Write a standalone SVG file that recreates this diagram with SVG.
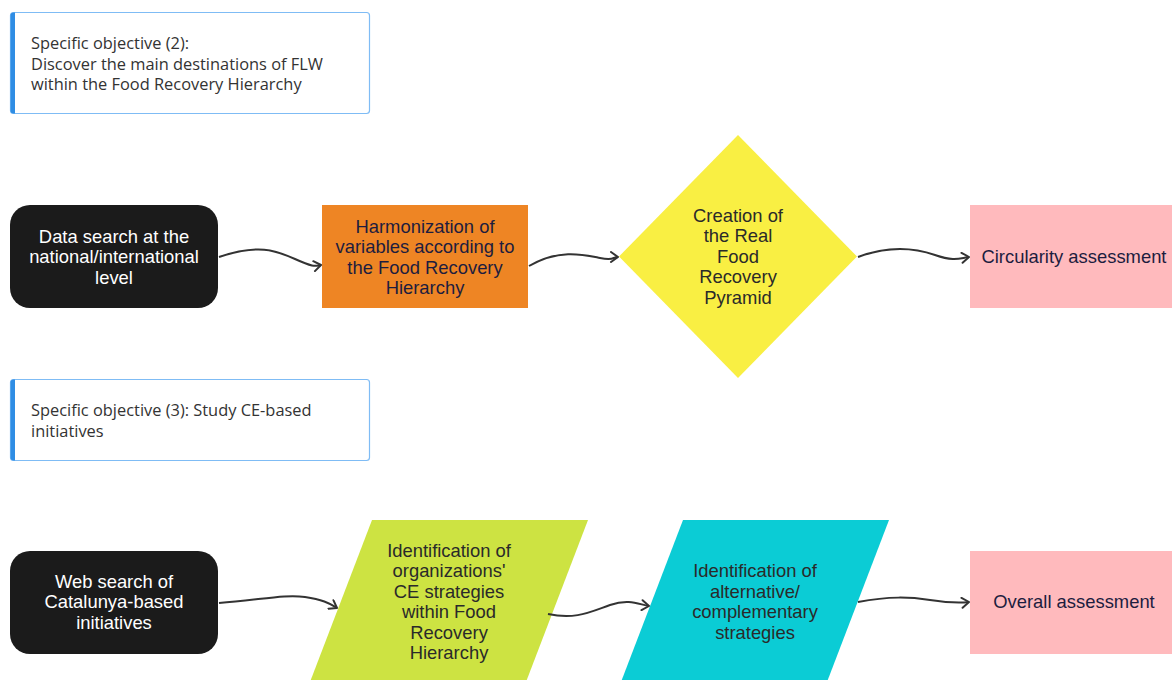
<svg xmlns="http://www.w3.org/2000/svg" width="1172" height="680" viewBox="0 0 1172 680">
<defs>
<style>
.obj{fill:#fff;stroke:#7fbcf5;stroke-width:1.2}
.bar{fill:#2f8de4}
.objt{font-family:"Open Sans","Noto Sans",sans-serif;font-size:16.4px;fill:#333}
.nt{font-family:"Liberation Sans",Arial,sans-serif;font-size:18.4px;text-anchor:middle}
.w{fill:#fff}
.d{fill:#1d1d3f}
.k{fill:#2a2a2a}
.conn{fill:none;stroke:#333;stroke-width:2}
</style>
<marker id="arr" viewBox="0 0 12 12" refX="10" refY="6" markerWidth="12" markerHeight="12" markerUnits="userSpaceOnUse" orient="auto">
<path d="M3,1 L10,6 L3,11" fill="none" stroke="#333" stroke-width="2" stroke-linecap="round" stroke-linejoin="round"/>
</marker>
</defs>
<rect width="1172" height="680" fill="#fff"/>

<g id="objective2">
<rect class="obj" x="10.5" y="12.5" width="359" height="101" rx="3"/>
<path class="bar" d="M13.5,12.5 H15 V113.5 H13.5 A3,3 0 0 1 10.5,110.5 V15.5 A3,3 0 0 1 13.5,12.5 Z"/>
<text class="objt" x="31" y="49">Specific objective (2):</text>
<text class="objt" x="31" y="69.5">Discover the main destinations of FLW</text>
<text class="objt" x="31" y="90">within the Food Recovery Hierarchy</text>
</g>

<g id="objective3">
<rect class="obj" x="10.5" y="379.5" width="359" height="81" rx="3"/>
<path class="bar" d="M13.5,379.5 H15 V460.5 H13.5 A3,3 0 0 1 10.5,457.5 V382.5 A3,3 0 0 1 13.5,379.5 Z"/>
<text class="objt" x="31" y="416">Specific objective (3): Study CE-based</text>
<text class="objt" x="31" y="436.5">initiatives</text>
</g>

<g id="datasearch">
<rect x="10" y="205" width="208" height="103" rx="20" fill="#1b1b1b"/>
<text class="nt w" x="114" y="242.5">Data search at the</text>
<text class="nt w" x="114" y="263">national/international</text>
<text class="nt w" x="114" y="283.5">level</text>
</g>

<g id="harmonization">
<rect x="322" y="205" width="206" height="103" fill="#ee8524"/>
<text class="nt d" x="425" y="232.5">Harmonization of</text>
<text class="nt d" x="425" y="253">variables according to</text>
<text class="nt d" x="425" y="273.5">the Food Recovery</text>
<text class="nt d" x="425" y="294">Hierarchy</text>
</g>

<g id="pyramid">
<polygon points="738,135 857,256.5 738,378 619,256.5" fill="#f9ef43"/>
<text class="nt k" x="738" y="221.5">Creation of</text>
<text class="nt k" x="738" y="242">the Real</text>
<text class="nt k" x="738" y="262.5">Food</text>
<text class="nt k" x="738" y="283">Recovery</text>
<text class="nt k" x="738" y="303.5">Pyramid</text>
</g>

<g id="circularity">
<rect x="970" y="205" width="208" height="103" fill="#ffbabd"/>
<text class="nt d" x="1074" y="263">Circularity assessment</text>
</g>

<g id="websearch">
<rect x="10" y="551" width="208" height="103" rx="20" fill="#1b1b1b"/>
<text class="nt w" x="114" y="587.5">Web search of</text>
<text class="nt w" x="114" y="608">Catalunya-based</text>
<text class="nt w" x="114" y="628.5">initiatives</text>
</g>

<g id="identification1">
<polygon points="372,520 588,520 526,682 310,682" fill="#cde342"/>
<text class="nt k" x="449" y="556.5">Identification of</text>
<text class="nt k" x="449" y="577">organizations'</text>
<text class="nt k" x="449" y="597.5">CE strategies</text>
<text class="nt k" x="449" y="618">within Food</text>
<text class="nt k" x="449" y="638.5">Recovery</text>
<text class="nt k" x="449" y="659">Hierarchy</text>
</g>

<g id="identification2">
<polygon points="683,520 889,520 827,682 621,682" fill="#0bccd5"/>
<text class="nt k" x="755" y="577">Identification of</text>
<text class="nt k" x="755" y="597.5">alternative/</text>
<text class="nt k" x="755" y="618">complementary</text>
<text class="nt k" x="755" y="638.5">strategies</text>
</g>

<g id="overall">
<rect x="970" y="551" width="208" height="103" fill="#ffbabd"/>
<text class="nt d" x="1074" y="608">Overall assessment</text>
</g>

<g id="connectors">
<path class="conn" marker-end="url(#arr)" d="M219,257 C258,244 275,250 295,259 S315,266 321,265"/>
<path class="conn" marker-end="url(#arr)" d="M529,266 C560,248 585,255 600,258 S612,257 618,257"/>
<path class="conn" marker-end="url(#arr)" d="M858,257 C890,245 915,248 935,255 S960,258 969,257"/>
<path class="conn" marker-end="url(#arr)" d="M219,603 C260,600 285,594 305,597 S330,604 337,608"/>
<path class="conn" marker-end="url(#arr)" d="M548,614 C575,620 590,612 610,605 S640,605 649,606"/>
<path class="conn" marker-end="url(#arr)" d="M858,602 C890,596 910,597 930,600 S960,603 969,602"/>
</g>
</svg>
